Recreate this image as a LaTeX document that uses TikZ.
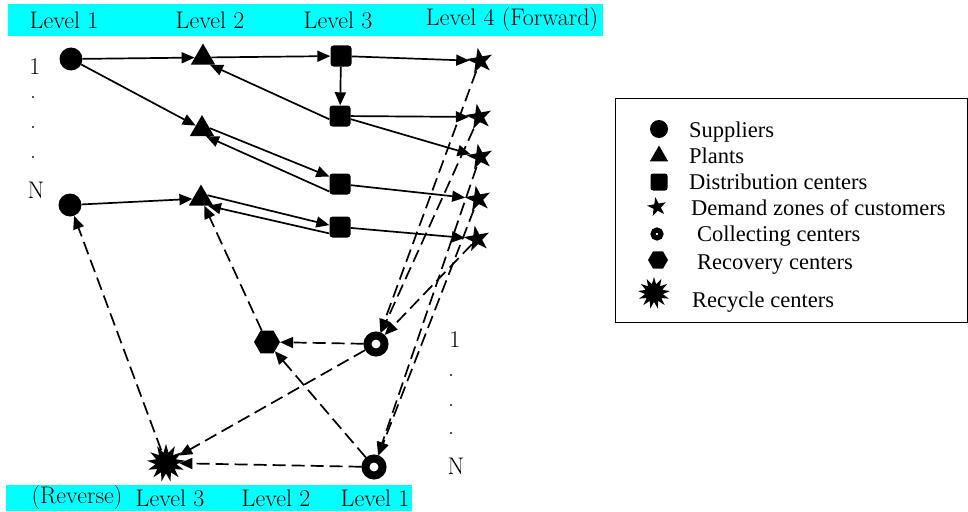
\documentclass[tikz,border=0pt]{standalone}
\usepackage{fontspec}
\newfontfamily\legfont{Liberation Serif}
\usetikzlibrary{shapes.geometric,arrows.meta}
\definecolor{aqua}{RGB}{0,255,255}
\begin{document}
\begin{tikzpicture}[x=1pt,y=-1pt,
  sup/.style={circle,fill,inner sep=0pt,minimum size=23pt},
  plant/.style={regular polygon,regular polygon sides=3,fill,inner sep=0pt,minimum size=28pt},
  dc/.style={rectangle,rounded corners=3pt,fill,inner sep=0pt,minimum size=21pt},
  cust/.style={star,star points=5,star point ratio=2.6,fill,inner sep=0pt,minimum size=27pt,rotate=10},
  coll/.style={circle,draw,line width=8pt,inner sep=0pt,minimum size=17pt,outer sep=4pt},
  recov/.style={regular polygon,regular polygon sides=6,fill,inner sep=0pt,minimum size=26pt},
  burst/.style={star,star points=13,star point ratio=1.8,fill,inner sep=0pt,minimum size=38pt},
  flow/.style={line width=1.7pt,-{Triangle[length=13pt,width=11pt]}},
  rev/.style={flow,dash pattern=on 13pt off 6pt},
  lvl/.style={font=\fontsize{24}{28}\selectfont,inner sep=0pt},
  leg/.style={font=\legfont\fontsize{22.5}{26}\selectfont,anchor=base west,inner sep=0pt}
]
\useasboundingbox (0,0) rectangle (968,511);
% bars
\fill[aqua] (8,4) rectangle (603,36);
\fill[aqua] (6,485) rectangle (412,511);
\node[lvl] (t1) at (64,20) {Level 1};
\node[lvl] (t2) at (210,20) {Level 2};
\node[lvl] (t3) at (338,20) {Level 3};
\node[lvl] (t4) at (512,20) {Level 4 (Forward)};
\node[lvl] (b0) at (77,498) {(Reverse)};
\node[lvl] (b3) at (170,498) {Level 3};
\node[lvl] (b2) at (276,498) {Level 2};
\node[lvl] (b1) at (375,498) {Level 1};
% side labels
\node[lvl] (l1) at (35,67) {1};
\node[lvl] (ld1) at (33,98) {.};
\node[lvl] (ld2) at (33,128) {.};
\node[lvl] (ld3) at (33,158) {.};
\node[lvl] (lN) at (36,190) {N};
\node[lvl] (r1) at (455,340) {1};
\node[lvl] (rd1) at (451,376) {.};
\node[lvl] (rd2) at (451,406) {.};
\node[lvl] (rd3) at (451,434) {.};
\node[lvl] (rN) at (456,466) {N};
% nodes
\node[sup] (S1) at (71,59) {};
\node[sup] (SN) at (70,205) {};
\node[plant] (P1) at (203,57.5) {};
\node[plant] (P2) at (202,129) {};
\node[plant] (P3) at (201,198.5) {};
\node[dc] (D1) at (341,56) {};
\node[dc] (D2) at (340,116) {};
\node[dc] (D3) at (340,184) {};
\node[dc] (D4) at (340,227) {};
\node[cust] (C1) at (480,61) {};
\node[cust] (C2) at (479,117) {};
\node[cust] (C3) at (480,157) {};
\node[cust] (C4) at (478,199) {};
\node[cust] (C5) at (477,239) {};
\node[coll] (K1) at (376,344) {};
\node[coll] (K2) at (374,467) {};
\node[recov] (R) at (267,342) {};
\node[burst] (X) at (166,463) {};
% forward flows
\draw[flow] (S1) -- (P1);
\draw[flow] (S1) -- (P2);
\draw[flow] (SN) -- (P3);
\draw[flow] (P1) -- (D1);
\draw[flow] (D2.197) -- (P1.-46);
\draw[flow] (P2.6) -- (D3.145);
\draw[flow] (D3.215) -- (P2.-61);
\draw[flow] (P3.27) -- (D4.170);
\draw[flow] (D4.211) -- (P3.-46);
\draw[flow] (D1) -- (D2);
\draw[flow] (D1) -- (C1);
\draw[flow] (D2) -- (C2);
\draw[flow] (D2) -- (C3);
\draw[flow] (D3) -- (C4);
\draw[flow] (D4) -- (C5);
% reverse flows
\draw[rev] (X) -- (SN);
\draw[rev] (R) -- (P3);
\draw[rev] (K1) -- (R);
\draw[rev] (K2) -- (R);
\draw[rev] (K1) -- (X);
\draw[rev] (K2) -- (X);
\draw[rev] (C1) -- (K1);
\draw[rev] (C2) -- (K1);
\draw[rev] (C5) -- (K1);
\draw[rev] (C3) -- (K2);
\draw[rev] (C4) -- (K2);
% legend
\node[draw,line width=1pt,inner sep=0pt,minimum width=352pt,minimum height=224pt,anchor=north west] (legend) at (615,98) {};
\node[sup,minimum size=18pt] (Ls) at (659,129) {};
\node[plant,minimum size=21pt] (Lp) at (659,156) {};
\node[dc,minimum size=17pt,rounded corners=2.5pt] (Ld) at (659,182) {};
\node[cust,minimum size=20pt] (Lc) at (657,207) {};
\node[coll,minimum size=8pt,line width=5pt] (Lk) at (657,234) {};
\node[recov,minimum size=20pt] (Lr) at (658,260) {};
\node[burst,minimum size=32pt] (Lx) at (654,293) {};
\node[leg] (Ts) at (689,137) {Suppliers};
\node[leg] (Tp) at (689,163) {Plants};
\node[leg] (Td) at (689,189) {Distribution centers};
\node[leg] (Tc) at (691,215) {Demand zones of customers};
\node[leg] (Tk) at (697,241) {Collecting centers};
\node[leg] (Tr) at (697,269) {Recovery centers};
\node[leg] (Tx) at (692,307) {Recycle centers};
\end{tikzpicture}
\end{document}
